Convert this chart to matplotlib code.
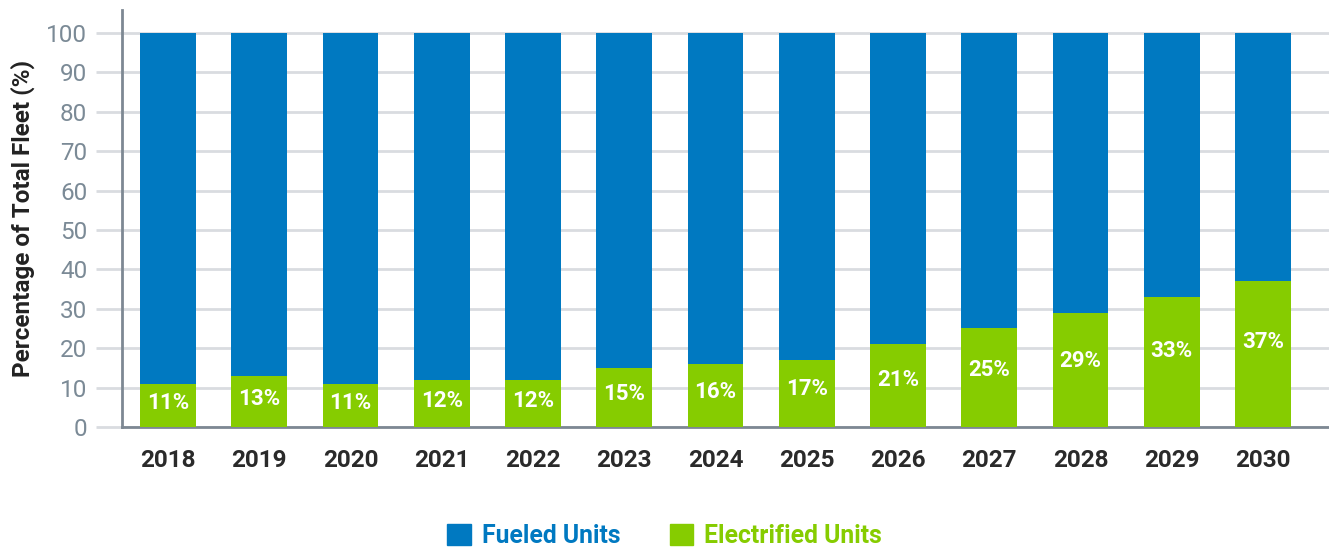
import numpy as np
import matplotlib.pyplot as plt
from matplotlib.patches import Patch

# ================================
# DATA
# ================================
years = ['2018', '2019', '2020', '2021', '2022', '2023', '2024',
         '2025', '2026', '2027', '2028', '2029', '2030']
electrified = [11, 13, 11, 12, 12, 15, 16, 17, 21, 25, 29, 33, 37]
fueled = [100 - e for e in electrified]

blue = '#0079C1'
green = '#86CC00'
grid_col = '#d9dce0'
axis_col = '#7d8893'

plt.rcParams['font.family'] = ['Roboto', 'DejaVu Sans']

fig = plt.figure(figsize=(13.29, 5.48), dpi=100)
ax = fig.add_axes([0.0918, 0.2208, 0.908, 0.761])

x = np.arange(len(years))
w = 0.61
ax.bar(x, electrified, w, color=green, zorder=3)
ax.bar(x, fueled, w, bottom=electrified, color=blue, zorder=3)

for xi, e in zip(x, electrified):
    ax.text(xi, e * 0.6 - 0.6, f'{e}%', ha='center', va='center',
            color='white', fontsize=16, fontweight='bold', zorder=4)

ax.set_ylim(0, 105.8)
ax.set_xlim(-0.505, 12.72)
ax.set_yticks(range(0, 101, 10))
ax.yaxis.grid(True, color=grid_col, linewidth=2, zorder=0)
ax.set_axisbelow(True)

ax.set_xticks(x)
ax.set_xticklabels(years, fontsize=17.5, fontweight='bold', color='#2a2a2a')
ax.tick_params(axis='x', length=0, pad=16)
ax.tick_params(axis='y', length=19, width=2, color=grid_col,
               labelsize=17.5, labelcolor='#7b8a96', pad=6)

for s in ['top', 'right']:
    ax.spines[s].set_visible(False)
for s in ['left', 'bottom']:
    ax.spines[s].set_color(axis_col)
    ax.spines[s].set_linewidth(2)

ax.set_ylabel('Percentage of Total Fleet (%)', fontsize=17.5,
              fontweight='bold', color='#222222', labelpad=8)

handles = [Patch(color=blue, label='Fueled Units'),
           Patch(color=green, label='Electrified Units')]
leg = fig.legend(handles=handles, loc='center', bbox_to_anchor=(0.5, 0.022),
                 ncol=2, frameon=False, handlelength=0.95,
                 handleheight=0.95, handletextpad=0.45, columnspacing=2.0,
                 prop={'weight': 'bold', 'size': 17.8})
for t, c in zip(leg.get_texts(), [blue, green]):
    t.set_color(c)

fig.savefig('out.png', dpi=100)
